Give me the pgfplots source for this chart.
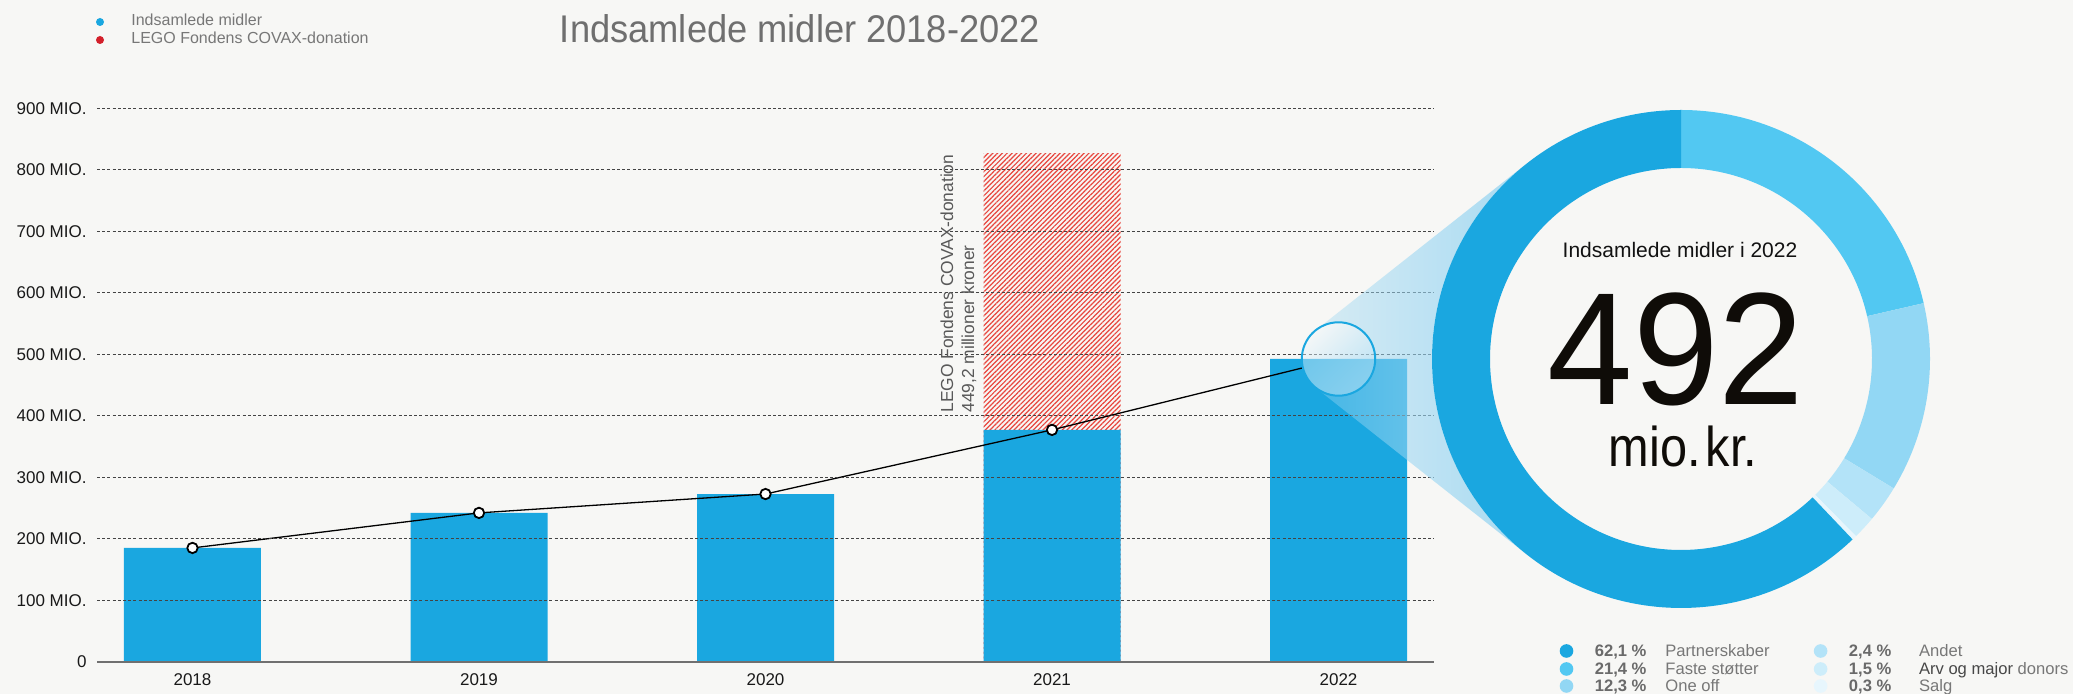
\documentclass[border=0pt]{standalone}
\usepackage{fontspec}
\setmainfont{Liberation Sans}
\usepackage{pgfplots}
\usepackage{pgfplotstable}
\pgfplotsset{compat=1.18}
\usetikzlibrary{patterns.meta, fadings}

\definecolor{bg}{HTML}{F7F7F5}
\definecolor{barblue}{HTML}{1AA7E0}
\definecolor{faste}{HTML}{52C8F2}
\definecolor{oneoff}{HTML}{92D7F4}
\definecolor{andet}{HTML}{B3E3F8}
\definecolor{arv}{HTML}{CDEDFA}
\definecolor{salg}{HTML}{E7F6FD}
\definecolor{hatch}{HTML}{E8463E}
\definecolor{legred}{HTML}{D3202A}
\definecolor{txtgray}{HTML}{777777}
\definecolor{pctgray}{HTML}{6A6A6A}
\definecolor{titlegray}{HTML}{6F6F6F}
\definecolor{conecol}{HTML}{9AD6F2}
\definecolor{gridc}{HTML}{444444}
\definecolor{axgray}{HTML}{707070}
\definecolor{numblack}{HTML}{0F0C08}

\tikzfading[name=conefade, left color=transparent!65, right color=transparent!15]
\tikzfading[name=circfade, left color=transparent!95, right color=transparent!35]

\pgfplotstableread{
x total
0 185
1 242
2 272.7
3 377
4 492.3
}\yeartab

\pgfplotstableread{
x base covax
3 377 449.2
}\covaxtab

\begin{document}
\begin{tikzpicture}[x=0.5pt,y=0.5pt]
\path[use as bounding box, fill=bg] (0,0) rectangle (2073,694);

\begin{axis}[
  at={(48.5pt,16.15pt)}, anchor=south west,
  scale only axis, width=668.5pt, height=276.7pt,
  xmin=-0.3333, xmax=4.3333, ymin=0, ymax=900,
  axis on top,
  axis x line*=bottom, axis y line*=left,
  y axis line style={draw=none},
  x axis line style={draw=axgray, line width=1pt, -},
  xtick={0,1,2,3,4}, xticklabels={2018,2019,2020,2021,2022},
  ytick={0,100,200,300,400,500,600,700,800,900},
  yticklabels={0,100 MIO.,200 MIO.,300 MIO.,400 MIO.,500 MIO.,600 MIO.,700 MIO.,800 MIO.,900 MIO.},
  major tick length=0pt,
  ymajorgrids,
  major grid style={gridc, line width=0.5pt, dash pattern=on 1.5pt off 1.1pt},
  tick label style={font=\fontsize{8.5}{10}\selectfont, color=black!90},
  yticklabel style={anchor=east, inner sep=0pt, xshift=-5pt},
  xticklabel style={anchor=north, inner sep=0pt, yshift=-6pt},
  clip=false,
]
\addplot[ybar, bar width=68.5pt, bar shift=0pt, draw=none,
  pattern={Lines[angle=45,distance=1.7pt,line width=0.6pt]}, pattern color=hatch]
  table[x=x, y expr=\thisrow{base}+\thisrow{covax}] {\covaxtab};
\addplot[ybar, bar width=68.5pt, bar shift=0pt, fill=barblue, draw=none]
  table[x=x, y=total] {\yeartab};
\addplot[black, line width=0.65pt, shorten >=18.35pt, mark=*, mark size=2.6pt,
  mark options={fill=white, draw=black, line width=0.9pt, solid},
  mark indices={1,2,3,4}]
  table[x=x, y=total] {\yeartab};
\end{axis}

% top-left legend
\fill[barblue] (100,672) circle (4);
\fill[legred] (100,654) circle (4);
\node[anchor=base west, inner sep=0, txtgray, font=\fontsize{8}{9.6}\selectfont] at (131,668) {Indsamlede midler};
\node[anchor=base west, inner sep=0, txtgray, font=\fontsize{8}{9.6}\selectfont] at (131,650.7) {LEGO Fondens COVAX-donation};

% title
\node[anchor=base, inner sep=0, titlegray, font=\fontsize{19.3}{22}\selectfont, xscale=0.94] at (800,651.3) {Indsamlede midler 2018-2022};

% rotated annotation
\node[rotate=90, anchor=base west, inner sep=0, color=black!65, font=\fontsize{8.7}{10}\selectfont] at (953,281) {LEGO Fondens COVAX-donation};
\node[rotate=90, anchor=base west, inner sep=0, color=black!65, font=\fontsize{8.7}{10}\selectfont] at (974,281) {449,2 millioner kroner};

% cone
\fill[conecol, path fading=conefade] (1315.75,363.8) -- (1526.6,530.4)
  arc[start angle=128.31, end angle=231.69, radius=249] -- (1315.75,306.2)
  arc[start angle=-128.31, end angle=128.31, radius=36.7] -- cycle;

% donut
\begin{scope}[shift={(1681,335)}]
\gdef\cum{0}
\foreach \p/\c in {21.4/faste, 12.3/oneoff, 2.4/andet, 1.5/arv, 0.3/salg, 62.1/barblue}{
  \pgfmathsetmacro\s{\cum}
  \pgfmathsetmacro\e{\cum+3.6*\p}
  \fill[\c] (90-\s:249) arc[start angle=90-\s, end angle=90-\e, radius=249]
     -- (90-\e:191) arc[start angle=90-\e, end angle=90-\s, radius=191] -- cycle;
  \xdef\cum{\e}
}
\end{scope}

% magnifier circle
\fill[white, opacity=0.35] (1338.5,335) circle (36.7);
\fill[conecol, path fading=circfade, fading angle=-45] (1338.5,335) circle (36.7);
\draw[barblue, line width=1pt] (1338.5,335) circle (36.7);

% donut centre text
\node[anchor=base, inner sep=0, font=\fontsize{10.5}{12}\selectfont, color=black!93] at (1680,436) {Indsamlede midler i 2022};
\node[anchor=base, inner sep=0, font=\fontsize{80}{88}\selectfont, xscale=0.96, color=numblack] at (1676,289) {492};
\node[anchor=base, inner sep=0, font=\fontsize{28}{31}\selectfont, xscale=0.87, color=numblack] at (1683,227) {mio.\hspace{0.1em}kr.};

% donut legend
\fill[barblue] (1566.5,43) circle (6.8);
\fill[faste] (1566.5,25) circle (6.8);
\fill[oneoff] (1566.5,8) circle (6.8);
\fill[andet] (1820.6,43) circle (6.8);
\fill[arv] (1820.6,25) circle (6.8);
\fill[salg] (1820.6,8) circle (6.8);
\begin{scope}[every node/.style={anchor=base west, inner sep=0, font=\fontsize{8.3}{10}\selectfont}]
\node[pctgray, font=\fontsize{8.3}{10}\selectfont\bfseries] at (1594.4,37.2) {62,1 \%};
\node[pctgray, font=\fontsize{8.3}{10}\selectfont\bfseries] at (1594.4,19.2) {21,4 \%};
\node[pctgray, font=\fontsize{8.3}{10}\selectfont\bfseries] at (1594.4,2.2) {12,3 \%};
\node[txtgray] at (1665,37.2) {Partnerskaber};
\node[txtgray] at (1665,19.2) {Faste støtter};
\node[txtgray] at (1665,2.2) {One off};
\node[pctgray, font=\fontsize{8.3}{10}\selectfont\bfseries] at (1848.5,37.2) {2,4 \%};
\node[pctgray, font=\fontsize{8.3}{10}\selectfont\bfseries] at (1848.5,19.2) {1,5 \%};
\node[pctgray, font=\fontsize{8.3}{10}\selectfont\bfseries] at (1848.5,2.2) {0,3 \%};
\node[txtgray] at (1918.6,37.2) {Andet};
\node[txtgray] at (1918.6,19.2) {{\color{black!72}Arv og major} donors};
\node[txtgray] at (1918.6,2.2) {Salg};
\end{scope}
\end{tikzpicture}
\end{document}
